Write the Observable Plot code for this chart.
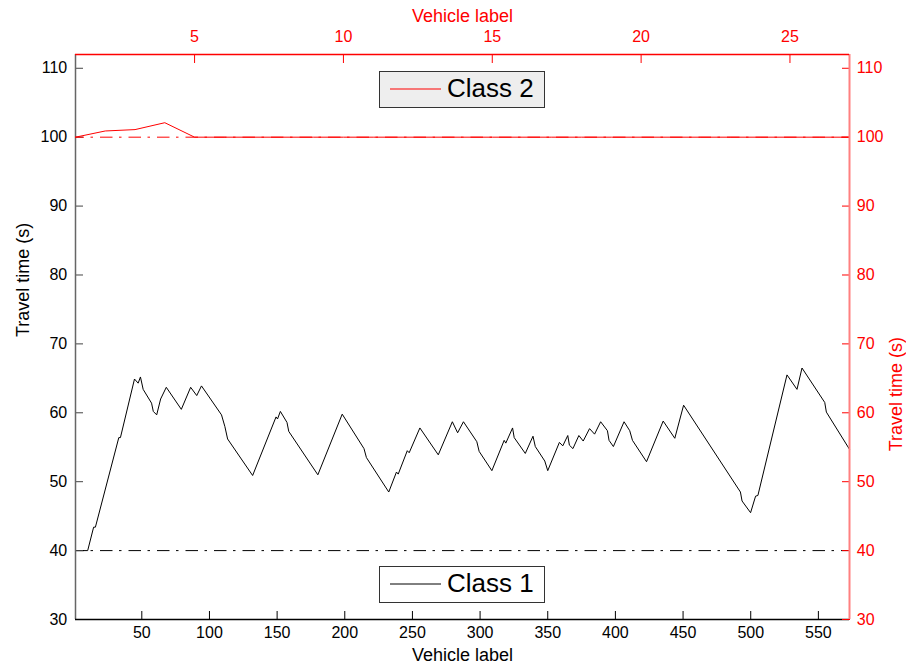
<!DOCTYPE html>
<html>
<head>
<meta charset="utf-8">
<script src="https://cdn.jsdelivr.net/npm/d3@7"></script>
<script src="https://cdn.jsdelivr.net/npm/@observablehq/plot@0.6"></script>
<style>
  html, body { margin: 0; padding: 0; background: white; }
  #wrap { position: relative; width: 906px; height: 666px; }
  #wrap svg { position: absolute; left: 0; top: 0; }
</style>
</head>
<body>
<div id="wrap"></div>
<script>
// ---- Data ----
// Class 1 (bottom / left axes): vehicle label vs travel time (s), line vertices
const class1Label = [1, 10, 14.4, 15.7, 33, 34.2, 44.6, 47.3, 49, 51, 57.2, 58.5, 61, 63.9, 68.1, 79.2, 86.1, 90.6, 94.1, 108.9, 111.4, 113.4, 131.9, 149.2, 150.3, 152.4, 157.3, 158.6, 180.1, 198.1, 214.2, 216, 232.5, 238.2, 239.5, 246.2, 247.6, 255.5, 269.1, 279.5, 283.4, 287.7, 297.6, 299.3, 308.7, 317.8, 319, 324, 325.2, 333.4, 339.1, 340.8, 347.8, 350, 358.6, 361.1, 364.8, 366, 368.6, 373, 376.2, 380.9, 384.6, 389.1, 394.1, 395.3, 398.5, 406.4, 410.6, 412.6, 423, 435.3, 443.9, 450.4, 492.4, 493.6, 499.9, 503.6, 505.3, 526.8, 534.2, 537.9, 554.7, 555.9, 573];
const class1Time = [40, 40, 43.4, 43.4, 56.4, 56.4, 64.9, 64.3, 65.2, 63.4, 61.4, 60.2, 59.7, 62.0, 63.7, 60.5, 63.7, 62.5, 63.9, 59.7, 58.0, 56.2, 50.9, 59.4, 59.1, 60.2, 58.6, 57.3, 51.0, 59.8, 54.8, 53.5, 48.5, 51.4, 51.1, 54.5, 54.2, 57.8, 53.9, 58.7, 57.1, 58.7, 55.8, 54.4, 51.6, 56.0, 55.6, 57.8, 56.4, 54.1, 56.6, 55.1, 53.0, 51.6, 55.7, 55.2, 56.7, 55.3, 54.8, 56.7, 55.9, 57.7, 56.9, 58.7, 57.4, 56.0, 55.1, 58.7, 57.4, 56.0, 52.9, 58.8, 56.3, 61.1, 48.5, 47.2, 45.5, 47.9, 48.0, 65.5, 63.4, 66.5, 61.5, 60.1, 54.7];
const class1Ref = [40];

// Class 2 (top / right axes, red)
const class2Label = [1, 2, 3, 4, 5, 6, 7, 8, 9, 10, 11, 12, 13, 14, 15, 16, 17, 18, 19, 20, 21, 22, 23, 24, 25, 26, 27];
const class2Time = [100, 100.9, 101.1, 102.1, 100, 100, 100, 100, 100, 100, 100, 100, 100, 100, 100, 100, 100, 100, 100, 100, 100, 100, 100, 100, 100, 100, 100];
const class2Ref = [100];

// Axes
const xDomain1 = [1, 573];
const xTicks1 = [50, 100, 150, 200, 250, 300, 350, 400, 450, 500, 550];
const xDomain2 = [1, 27];
const xTicks2 = [5, 10, 15, 20, 25];
const yDomain = [30, 112];
const yTicks = [30, 40, 50, 60, 70, 80, 90, 100, 110];
const xTitle = "Vehicle label";
const yTitle = "Travel time (s)";
const legend1 = "Class 1";
const legend2 = "Class 2";

// ---- Build ----
const c1 = class1Label.map((x, i) => ({x, y: class1Time[i]}));
const c2 = class2Label.map((x, i) => ({x, y: class2Time[i]}));
const dash = "12.5,6.5,2.5,7";
const font = "'Liberation Sans', Arial, Helvetica, sans-serif";

const common = {
  width: 906, height: 666,
  marginLeft: 75, marginRight: 57, marginTop: 54, marginBottom: 47,
  y: {domain: yDomain}
};

const plot1 = Plot.plot({
  ...common,
  x: {domain: xDomain1},
  style: {fontFamily: font, fontSize: "16px", color: "black", background: "white", overflow: "visible"},
  marks: [
    Plot.ruleY(class1Ref, {stroke: "black", strokeWidth: 1, strokeDasharray: dash, strokeDashoffset: 3.5}),
    Plot.line(c1, {x: "x", y: "y", stroke: "black", strokeWidth: 1}),
    Plot.axisX({anchor: "bottom", ticks: xTicks1, tickSize: -8, tickPadding: 15.6, label: null, fontSize: 16}),
    Plot.axisY({anchor: "left", ticks: yTicks, tickSize: -8, tickPadding: 16.3, label: null, fontSize: 16, stroke: "#444"}),
    Plot.ruleX([xDomain1[0]], {stroke: "#666", strokeWidth: 1.5}),
    Plot.ruleY([yDomain[0]], {stroke: "black", strokeWidth: 1.5}),
    Plot.text([xTitle], {text: d => d, frameAnchor: "bottom", lineAnchor: "middle", dy: 36, fontSize: 18, fill: "black"}),
    Plot.text([yTitle], {text: d => d, frameAnchor: "left", lineAnchor: "middle", dx: -52.5, rotate: -90, fontSize: 18, fill: "black"})
  ]
});

const plot2 = Plot.plot({
  ...common,
  x: {domain: xDomain2},
  style: {fontFamily: font, fontSize: "16px", color: "red", background: "transparent", overflow: "visible"},
  marks: [
    Plot.ruleY(class2Ref, {stroke: "red", strokeWidth: 1, strokeDasharray: dash, strokeDashoffset: 3.5}),
    Plot.line(c2, {x: "x", y: "y", stroke: "red", strokeWidth: 1}),
    Plot.axisX({anchor: "top", ticks: xTicks2, tickSize: -8, tickPadding: 20.2, label: null, fontSize: 16}),
    Plot.axisY({anchor: "right", ticks: yTicks, tickSize: -8, tickPadding: 15.3, label: null, fontSize: 16}),
    Plot.ruleX([xDomain2[1]], {stroke: "#ff8080", strokeWidth: 2}),
    Plot.ruleY([yDomain[1]], {stroke: "red", strokeWidth: 1.5}),
    Plot.text([xTitle], {text: d => d, frameAnchor: "top", lineAnchor: "middle", dy: -37.8, fontSize: 18, fill: "red"}),
    Plot.text([yTitle], {text: d => d, frameAnchor: "right", lineAnchor: "middle", dx: 47, rotate: -90, fontSize: 18, fill: "red"})
  ]
});

const wrap = document.getElementById("wrap");
wrap.appendChild(plot1);
wrap.appendChild(plot2);

// Legends (boxes)
function legend(svg, {x, y, w, h, fill, stroke, label, baseline}) {
  const g = d3.select(svg).append("g");
  g.append("rect").attr("x", x + 0.5).attr("y", y + 0.5).attr("width", w).attr("height", h)
    .attr("fill", fill).attr("stroke", "#333").attr("stroke-width", 1);
  g.append("line").attr("x1", x + 11).attr("x2", x + 62).attr("y1", y + h / 2).attr("y2", y + h / 2)
    .attr("stroke", stroke).attr("stroke-width", 1);
  g.append("text").attr("x", x + 68).attr("y", baseline).attr("fill", "black")
    .attr("text-anchor", "start")
    .attr("font-family", font).attr("font-size", 26).text(label);
}
legend(plot2, {x: 379, y: 71, w: 165, h: 36, fill: "#eeeeee", stroke: "red", label: legend2, baseline: 96.5});
legend(plot2, {x: 379, y: 566, w: 165, h: 36, fill: "white", stroke: "black", label: legend1, baseline: 592});
</script>
</body>
</html>
